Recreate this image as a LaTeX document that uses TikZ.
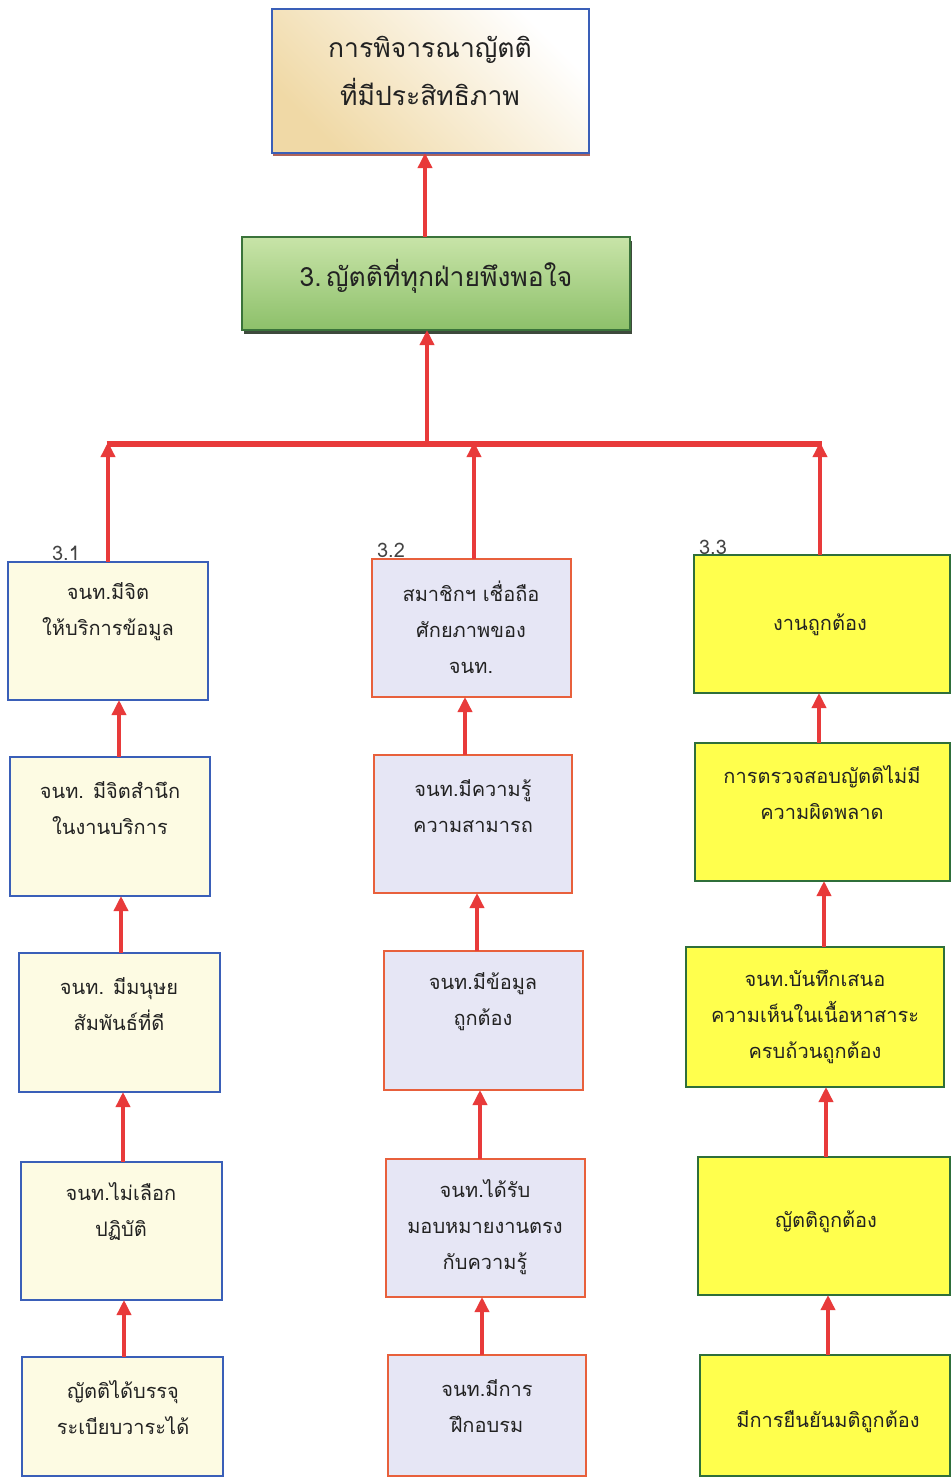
\documentclass[tikz,border=0pt]{standalone}
\usepackage{fontspec}
\newfontfamily\thai[Script=Thai]{Loma}
\usetikzlibrary{arrows.meta,shadows}
\definecolor{arrred}{HTML}{E83A3A}
\definecolor{blueline}{HTML}{3A5FB8}
\definecolor{creamfill}{HTML}{FDFBE3}
\definecolor{orangeline}{HTML}{E8603C}
\definecolor{lavfill}{HTML}{E6E6F5}
\definecolor{greenline}{HTML}{2F6F3A}
\definecolor{yelfill}{HTML}{FFFF4D}
\definecolor{darkgreen}{HTML}{3A733A}
\definecolor{gtop}{HTML}{C8E4A8}
\definecolor{gbot}{HTML}{8DC06A}
\definecolor{gshadow}{HTML}{3E4A3C}
\definecolor{tanfill}{HTML}{F0D9A6}
\definecolor{tshadow}{HTML}{B0645A}
\definecolor{txtcol}{HTML}{222222}
\tikzset{
  x=1pt, y=-1pt,
  boxbase/.style={line width=2pt, inner sep=0pt, outer sep=0pt},
  colA/.style={boxbase, draw=blueline, fill=creamfill},
  colB/.style={boxbase, draw=orangeline, fill=lavfill},
  colC/.style={boxbase, draw=greenline, fill=yelfill},
  topbox/.style={boxbase, draw=blueline, left color=tanfill, right color=white, shading angle=135,
    drop shadow={shadow xshift=1pt, shadow yshift=-3pt, fill=tshadow, opacity=1}},
  greenbox/.style={boxbase, line width=2.5pt, draw=darkgreen, top color=gtop, bottom color=gbot,
    drop shadow={shadow xshift=2pt, shadow yshift=-4pt, fill=gshadow, opacity=1}},
  txt/.style={align=center, text=txtcol, inner sep=0pt, font=\thai\fontsize{20}{36}\selectfont},
  lbl/.style={text=txtcol!85, inner sep=0pt, font=\thai\fontsize{20}{22}\selectfont},
  arr/.style={draw=arrred, line width=3.5pt, -{Triangle[width=14pt,length=15pt]}},
  busline/.style={draw=arrred, line width=5.5pt},
}
\begin{document}
\begin{tikzpicture}
\useasboundingbox[fill=white] (0,0) rectangle (952,1478);

% top and green
\node[topbox, minimum width=317pt, minimum height=144pt] (T) at (430.5,81) {};
\node[txt, font=\thai\fontsize{26.5}{48}\selectfont] (tT) at (430,71) {การพิจารณาญัตติ\\ที่มีประสิทธิภาพ};
\node[greenbox, minimum width=388pt, minimum height=93pt] (G) at (436,283.5) {};
\node[txt, font=\thai\fontsize{26.5}{40}\selectfont] (tG) at (436,276) {3.\,ญัตติที่ทุกฝ่ายพึงพอใจ};

% column 1
\node[colA, minimum width=200pt, minimum height=138pt] (b1) at (108,631) {};
\node[colA, minimum width=200pt, minimum height=139pt] (b2) at (110,826.5) {};
\node[colA, minimum width=201pt, minimum height=139pt] (b3) at (119.5,1022.5) {};
\node[colA, minimum width=201pt, minimum height=138pt] (b4) at (121.5,1231) {};
\node[colA, minimum width=201pt, minimum height=119pt] (b5) at (122.5,1416.5) {};
\node[txt] (tb1) at (108,612) {จนท.มีจิต\\ให้บริการข้อมูล};
\node[txt] (tb2) at (110,808) {จนท. มีจิตสำนึก\\ในงานบริการ};
\node[txt] (tb3) at (119,1004) {จนท. มีมนุษย\\สัมพันธ์ที่ดี};
\node[txt] (tb4) at (121,1212) {จนท.ไม่เลือก\\ปฏิบัติ};
\node[txt] (tb5) at (123,1408) {ญัตติได้บรรจุ\\ระเบียบวาระได้};

% column 2
\node[colB, minimum width=199pt, minimum height=138pt] (c1) at (471.5,628) {};
\node[colB, minimum width=198pt, minimum height=138pt] (c2) at (473,824) {};
\node[colB, minimum width=199pt, minimum height=139pt] (c3) at (483.5,1020.5) {};
\node[colB, minimum width=199pt, minimum height=138pt] (c4) at (485.5,1228) {};
\node[colB, minimum width=198pt, minimum height=121pt] (c5) at (487,1415.5) {};
\node[txt] (tc1) at (471,627) {สมาชิกฯ เชื่อถือ\\ศักยภาพของ\\จนท.};
\node[txt] (tc2) at (473,806) {จนท.มีความรู้\\ความสามารถ};
\node[txt] (tc3) at (483,1002) {จนท.มีข้อมูล\\ถูกต้อง};
\node[txt] (tc4) at (485,1227) {จนท.ได้รับ\\มอบหมายงานตรง\\กับความรู้};
\node[txt] (tc5) at (487,1406) {จนท.มีการ\\ฝึกอบรม};

% column 3
\node[colC, minimum width=256pt, minimum height=138pt] (d1) at (822,624) {};
\node[colC, minimum width=255pt, minimum height=138pt] (d2) at (822.5,812) {};
\node[colC, minimum width=258pt, minimum height=140pt] (d3) at (815,1017) {};
\node[colC, minimum width=252pt, minimum height=138pt] (d4) at (824,1226) {};
\node[colC, minimum width=250pt, minimum height=121pt] (d5) at (825,1415.5) {};
\node[txt] (td1) at (820,625) {งานถูกต้อง};
\node[txt] (td2) at (822,793) {การตรวจสอบญัตติไม่มี\\ความผิดพลาด};
\node[txt] (td3) at (815,1017) {จนท.บันทึกเสนอ\\ความเห็นในเนื้อหาสาระ\\ครบถ้วนถูกต้อง};
\node[txt] (td4) at (826,1222) {ญัตติถูกต้อง};
\node[txt] (td5) at (828,1422) {มีการยืนยันมติถูกต้อง};

% labels
\node[lbl] (l1) at (66,553) {3.1};
\node[lbl] (l2) at (391,550) {3.2};
\node[lbl] (l3) at (713,547) {3.3};

% bus
\coordinate (p1) at (108,444);
\coordinate (pm) at (427,444);
\coordinate (p2) at (474,444);
\coordinate (p3) at (820,444);
\draw[busline] ([xshift=-1.5]p1) -- ([xshift=1.5]p3);

% arrows up
\draw[arr] ([xshift=-11]G.north) -- ([xshift=-5.5]T.south);
\draw[arr] (pm) -- ([xshift=-9]G.south);
\draw[arr] (b1.north) -- ([yshift=2]p1);
\draw[arr] (c1.north -| p2) -- ([yshift=2]p2);
\draw[arr] (d1.north -| p3) -- ([yshift=2]p3);

\draw[arr] ([xshift=9]b2.north) -- ([xshift=11]b1.south);
\draw[arr] ([xshift=1.5]b3.north) -- ([xshift=11]b2.south);
\draw[arr] ([xshift=1.5]b4.north) -- ([xshift=3.5]b3.south);
\draw[arr] ([xshift=1.5]b5.north) -- ([xshift=2.5]b4.south);

\draw[arr] ([xshift=-8]c2.north) -- ([xshift=-6.5]c1.south);
\draw[arr] ([xshift=-6.5]c3.north) -- ([xshift=4]c2.south);
\draw[arr] ([xshift=-5.5]c4.north) -- ([xshift=-3.5]c3.south);
\draw[arr] ([xshift=-5]c5.north) -- ([xshift=-3.5]c4.south);

\draw[arr] ([xshift=-3.5]d2.north) -- ([xshift=-3]d1.south);
\draw[arr] ([xshift=9]d3.north) -- ([xshift=1.5]d2.south);
\draw[arr] ([xshift=2]d4.north) -- ([xshift=11]d3.south);
\draw[arr] ([xshift=3]d5.north) -- ([xshift=4]d4.south);
\end{tikzpicture}
\end{document}
